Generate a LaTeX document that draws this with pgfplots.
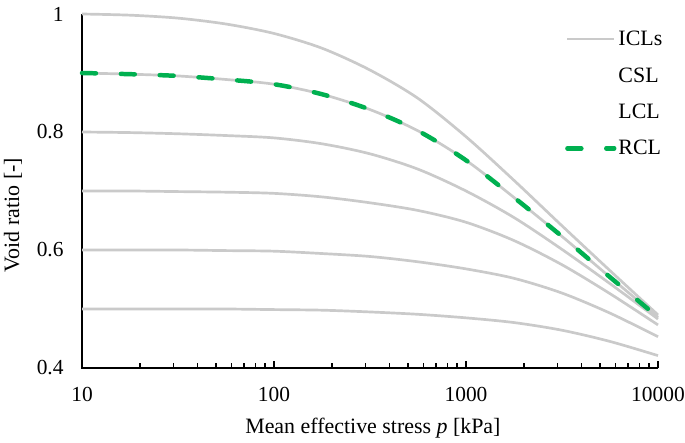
\documentclass[border=0pt]{standalone}
\usepackage{pgfplots}
\pgfplotsset{compat=1.18}
\usepackage{pgfplotstable}
\usepackage{fontspec}
\setmainfont{Liberation Serif}
\definecolor{iclgray}{RGB}{202,202,202}
\definecolor{rclgreen}{RGB}{0,176,80}

\pgfplotstableread{
p e10 e09 e08 e07 e06 e05
10 1.000 0.900 0.800 0.700 0.600 0.500
17.783 0.998 0.898 0.799 0.700 0.600 0.500
31.623 0.993 0.895 0.797 0.699 0.600 0.500
56.234 0.983 0.889 0.794 0.698 0.599 0.500
100 0.967 0.881 0.790 0.696 0.598 0.499
177.83 0.942 0.864 0.780 0.690 0.594 0.498
316.23 0.905 0.838 0.763 0.680 0.589 0.495
562.34 0.857 0.802 0.737 0.667 0.580 0.491
1000 0.792 0.752 0.700 0.647 0.568 0.485
1778.3 0.718 0.689 0.655 0.616 0.552 0.477
3162.3 0.641 0.623 0.601 0.575 0.527 0.464
5623.4 0.565 0.554 0.543 0.526 0.493 0.445
10000 0.490 0.486 0.483 0.473 0.453 0.421
}\curves

\begin{document}
\begin{tikzpicture}
\begin{axis}[
  scale only axis, width=576bp, height=354bp,
  xmode=log, xmin=10, xmax=10000, ymin=0.4, ymax=1,
  clip=false,
  axis x line*=bottom, axis y line*=left,
  axis line style={-, line width=2.6pt, black},
  font=\fontsize{22}{26}\selectfont,
  xtick={10,100,1000,10000}, xticklabels={10,100,1000,10000},
  minor xtick={20,30,40,50,60,70,80,90,200,300,400,500,600,700,800,900,2000,3000,4000,5000,6000,7000,8000,9000},
  ytick={0.4,0.6,0.8,1},
  /pgf/number format/assume math mode=true,
  tick align=inside,
  major tick length=7.5pt, minor tick length=5pt,
  every tick/.style={black, line width=1.6pt},
  ytick style={draw=none},
  tick label style={font=\fontsize{21.5}{25}\selectfont},
  x tick label style={yshift=-16pt},
  y tick label style={xshift=-15pt},
  xlabel={Mean effective stress \textit{p} [kPa]},
  ylabel={Void ratio [-]},
  xlabel style={at={(axis description cs:0.505,-0.1695)}, anchor=center},
  ylabel style={at={(axis description cs:-0.12,0.432)}, anchor=center},
  legend style={at={(axis description cs:0.8385,0.958)}, anchor=north west,
    draw=none, fill=none, inner sep=0pt, row sep=16.5pt,
    font=\fontsize{22}{26}\selectfont},
  legend cell align=left,
  legend image code/.code={\draw[#1] (0pt,0pt) -- (47pt,0pt);},
]
\coordinate (O) at (rel axis cs:0,0);
\draw[black, line width=2.8pt] (rel axis cs:1,0) -- (rel axis cs:0,0) -- (rel axis cs:0,1);
\addplot[iclgray, line width=2.7pt, smooth] table[x=p,y=e10]{\curves};
\addlegendentry{ICLs}
\addplot[iclgray, line width=2.7pt, smooth, forget plot] table[x=p,y=e09]{\curves};
\addplot[iclgray, line width=2.7pt, smooth, forget plot] table[x=p,y=e08]{\curves};
\addplot[iclgray, line width=2.7pt, smooth, forget plot] table[x=p,y=e07]{\curves};
\addplot[iclgray, line width=2.7pt, smooth, forget plot] table[x=p,y=e06]{\curves};
\addplot[iclgray, line width=2.7pt, smooth, forget plot] table[x=p,y=e05]{\curves};
\addlegendimage{empty legend}
\addlegendentry{CSL}
\addlegendimage{empty legend}
\addlegendentry{LCL}
\addplot[rclgreen, line width=4.5pt, dash pattern=on 14pt off 25pt, line cap=round, smooth] table[x=p,y=e09]{\curves};
\addlegendentry{RCL}
\end{axis}
\pgfresetboundingbox
\path[use as bounding box] ([shift={(-82bp,-75bp)}]O) rectangle ++(685bp,443bp);
\end{tikzpicture}
\end{document}
